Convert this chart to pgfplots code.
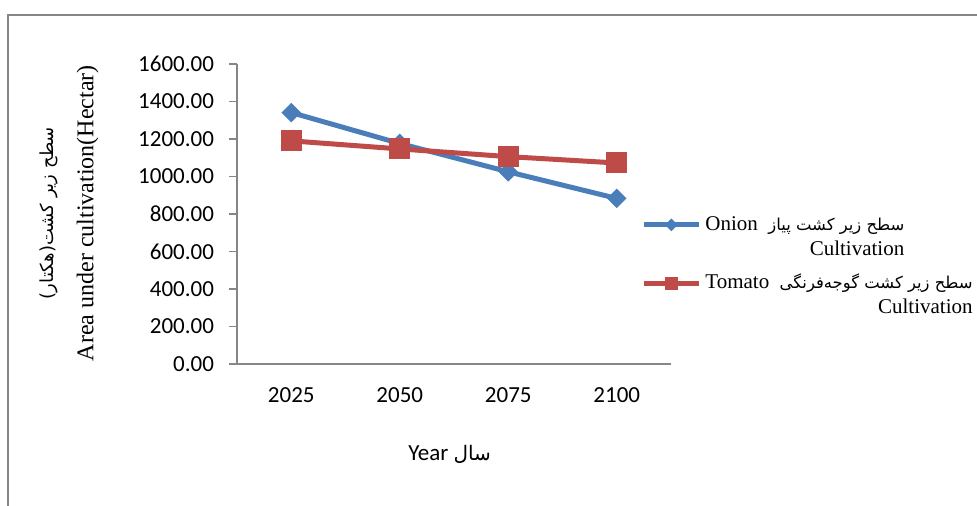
\documentclass[border=0pt]{standalone}
\usepackage{fontspec}
\setmainfont{Liberation Serif}
\newfontfamily\carlito{Carlito}
\newfontfamily\arabicfont[Script=Arabic]{DejaVu Sans}
\usepackage{pgfplots}
\pgfplotsset{compat=1.18}
\TeXXeTstate=1

\definecolor{onion}{HTML}{4A7EBB}
\definecolor{tomato}{HTML}{BE4B48}
\definecolor{axisgray}{HTML}{868686}

\begin{document}
\begin{tikzpicture}
\useasboundingbox (0,0) rectangle (488.5pt,253pt);
\draw[axisgray, line width=1pt] (4pt,0pt) -- (4pt,245.5pt) -- (488.5pt,245.5pt);
\begin{axis}[
  at={(118.5pt,71pt)}, anchor=south west,
  scale only axis, width=217pt, height=150pt,
  xmin=-0.5, xmax=3.5, ymin=0, ymax=1600,
  xtick={0,1,2,3}, xticklabels={2025,2050,2075,2100},
  ytick={0,200,...,1600},
  axis x line=bottom, axis y line=left,
  axis line style={-, axisgray, line width=0.9pt},
  x tick style={draw=none},
  y tick style={axisgray, line width=0.9pt},
  tick align=outside, major tick length=4pt,
  tick label style={font=\carlito\fontsize{11.5}{13}\selectfont},
  /pgf/number format/assume math mode=true,
  y tick label style={/pgf/number format/fixed, /pgf/number format/fixed zerofill,
    /pgf/number format/precision=2, /pgf/number format/1000 sep={}, xshift=-4pt},
  x tick label style={yshift=-4.5pt},
  clip=false,
  ylabel={{\fontsize{9}{11}\selectfont\arabicfont\beginR سطح زیر کشت(هکتار)\endR}\\[6pt]Area under cultivation(Hectar)},
  ylabel style={at={(axis description cs:-0.387,0.503)}, anchor=center, align=center,
    font=\fontsize{12}{14}\selectfont},
  xlabel={Year {\fontsize{10}{12}\selectfont\arabicfont\beginR سال\endR}},
  xlabel style={at={(axis description cs:0.49,-0.303)}, anchor=center,
    font=\carlito\fontsize{11.5}{13}\selectfont},
  legend style={draw=none, fill=none, at={(axis description cs:0.917,0.52)}, anchor=north west,
    cells={align=right}, font=\fontsize{10.5}{12.5}\selectfont, row sep=4pt},
  legend cell align=left,
  legend image code/.code={\draw[mark repeat=2,mark phase=2]
    plot coordinates {(0pt,6.25pt) (13.75pt,6.25pt) (27.5pt,6.25pt)};},
]
\addplot[color=onion, line width=2.5pt, mark=square*, mark size=3.2pt,
  mark options={rotate=45, solid, line width=0.5pt, fill=onion},
  legend image post style={mark size=2pt}]
  coordinates {(0,1341) (1,1176) (2,1025) (3,883)};
\addlegendentry{Onion\ \ {\fontsize{8.2}{12.5}\selectfont\arabicfont\beginR سطح زیر کشت پیاز\endR}\\Cultivation}
\addplot[color=tomato, line width=2.5pt, mark=square*, mark size=5pt,
  mark options={solid, line width=0.5pt, fill=tomato},
  legend image post style={mark size=3pt}]
  coordinates {(0,1190) (1,1147) (2,1106) (3,1072)};
\addlegendentry{Tomato\ \ {\fontsize{8.2}{12.5}\selectfont\arabicfont\beginR سطح زیر کشت گوجه‌فرنگی\endR}\\Cultivation}
\end{axis}
\end{tikzpicture}
\end{document}
